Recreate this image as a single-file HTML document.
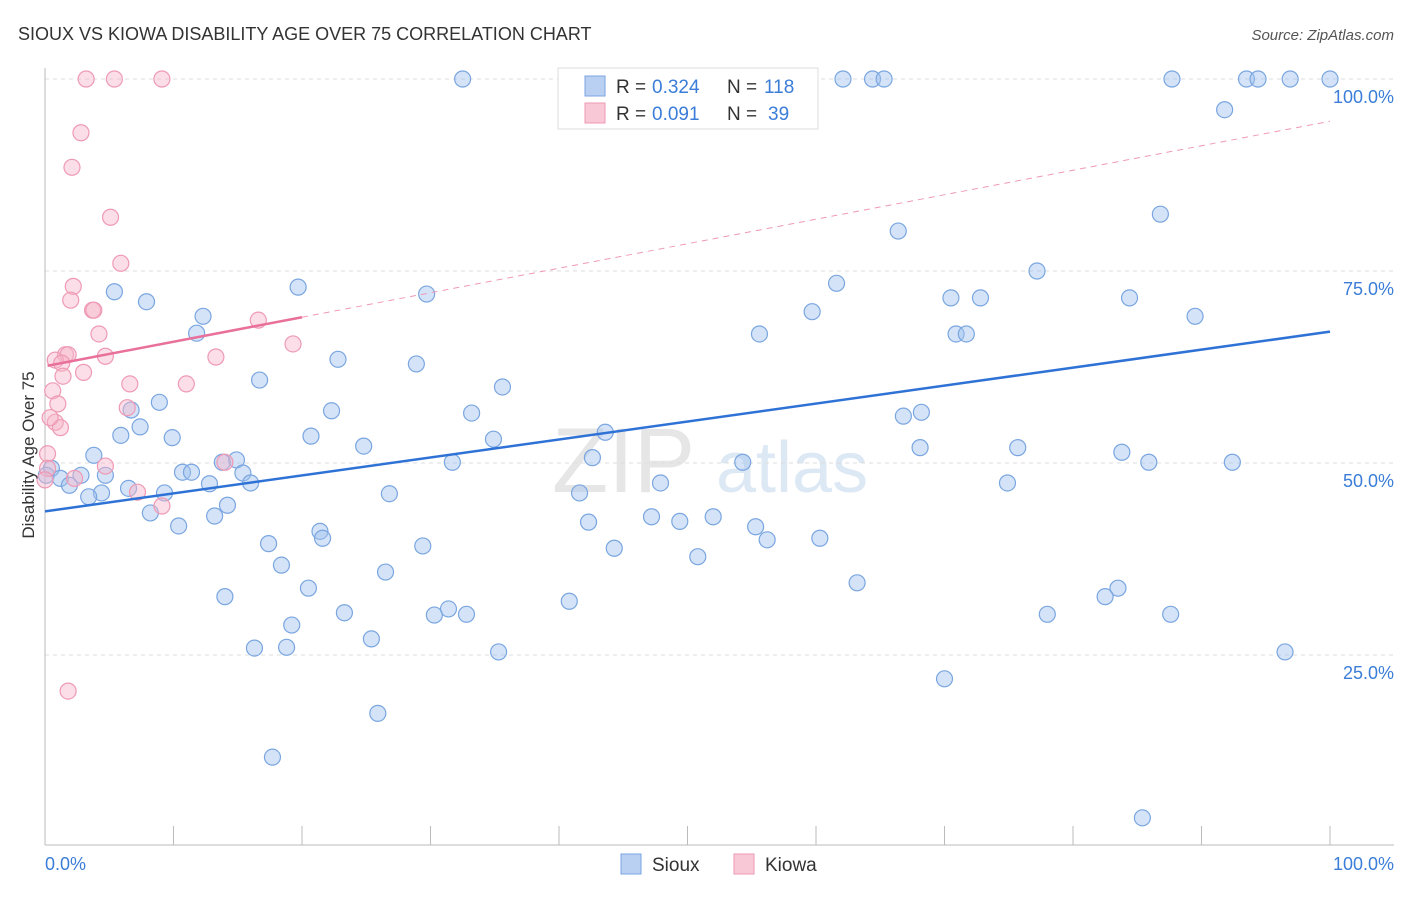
<!DOCTYPE html>
<html><head><meta charset="utf-8"><style>
body{margin:0;background:#fff;font-family:"Liberation Sans",sans-serif;}
svg text{font-family:"Liberation Sans",sans-serif;}
</style></head><body>
<svg id="c" width="1406" height="892">
<text x="18" y="40" font-size="18" fill="#333">SIOUX VS KIOWA DISABILITY AGE OVER 75 CORRELATION CHART</text>
<text x="1394" y="40" font-size="15" fill="#555" font-style="italic" text-anchor="end">Source: ZipAtlas.com</text>
<g><text x="552" y="492" font-size="92" fill="#e6e6e6" font-family="Liberation Serif">ZIP</text><text x="716" y="492" font-size="72" fill="#dde8f5">atlas</text></g>
<g id="grid"></g><g id="marks"></g>
<text x="34" y="455" font-size="17" fill="#333" transform="rotate(-90 34 455)" text-anchor="middle">Disability Age Over 75</text>
<text x="45" y="870" font-size="18" fill="#3b7dd8">0.0%</text>
<text x="1394" y="870" font-size="18" fill="#3b7dd8" text-anchor="end">100.0%</text>
<g>
<rect x="558" y="68" width="260" height="61" fill="#fff" stroke="#ddd"/>
<rect x="585" y="76" width="20" height="20" fill="#b9d0f2" stroke="#7aa6e0"/>
<rect x="585" y="103" width="20" height="20" fill="#f9c8d7" stroke="#ef9ab5"/>
<text y="93" font-size="19" fill="#333"><tspan x="616">R =</tspan><tspan x="652" fill="#3b7dd8">0.324</tspan><tspan x="727">N =</tspan><tspan x="764" fill="#3b7dd8" id="n1">118</tspan></text>
<text y="120" font-size="19" fill="#333"><tspan x="616">R =</tspan><tspan x="652" fill="#3b7dd8">0.091</tspan><tspan x="727">N =</tspan><tspan x="768" fill="#3b7dd8" id="n2">39</tspan></text>
</g>
<g>
<rect x="621" y="854" width="20" height="20" fill="#b9d0f2" stroke="#7aa6e0"/><text x="652" y="871" font-size="19" fill="#333">Sioux</text>
<rect x="734" y="854" width="20" height="20" fill="#f9c8d7" stroke="#ef9ab5"/><text x="765" y="871" font-size="19" fill="#333">Kiowa</text>
</g>
</svg>
<script>
const yTicks=[25,50,75,100];
const yTickLabels=["25.0%","50.0%","75.0%","100.0%"];
const siouxN=118;
const kiowaN=39;
const siouxX=[readX([462,630,843,873,884,1172,1246,1258,1290,1330,1225,1160,898,1037,836,951,981,1130,812,1195,760,956,966,298,114,146,203,196,427,338,417,260,502,160,131,332,472,903,922,140,121,311,172,493,605,364,920,1018,1122,1149,1232,743,593,452,236,94,52,46,61,81,105,183,191,222,243,250,210,1007,661,69,101,89,129,165,390,580,227,151,215,179,588,652,680,713,755,320,322,767,820,269,423,614,698,281,385,308,857,1118,1105,225,569,448,434,466,345,1047,1171,292,371,255,286,499,1285,945,378,273,1142])][0];
const siouxY=[readY([79,79,79,79,79,79,79,79,79,79,110,214,231,271,283,298,298,298,312,316,334,334,334,287,292,302,316,333,294,359,364,380,387,402,410,411,413,416,412,427,435,436,438,439,432,446,448,448,452,462,462,462,458,462,460,455,468,475,478,475,475,472,472,462,473,483,484,483,483,485,493,497,488,493,494,493,505,513,516,526,522,517,521,517,527,531,538,540,538,544,546,548,557,565,572,588,583,588,597,597,601,609,615,614,613,614,614,625,639,648,647,652,652,679,713,757,818])][0];
const kiowaX=[readX([86,115,162,81,72,110,121,73,71,92,94,99,258,293,65,68,55,62,106,216,84,63,130,186,53,58,127,55,60,48,105,48,225,75,138,162,68,45,50])][0];
const kiowaY=[readY([79,79,79,133,167,217,263,286,300,310,310,334,320,344,355,355,360,363,356,357,372,376,384,384,391,404,408,422,428,454,466,468,462,478,492,506,691,480,418])][0];
const siouxTrend=[43.7,67.1];
const kiowaTrend=[62.6,94.5];
function readX(a){return a.map(p=>+((p-45)/12.85).toFixed(1));}
function readY(a){return a.map(p=>+((847-p)/7.68).toFixed(1));}
document.getElementById('n1').textContent=siouxN;
document.getElementById('n2').textContent=kiowaN;
const sx=v=>45+v*12.85, sy=v=>847-v*7.68;
const NS='http://www.w3.org/2000/svg';
function mk(t,at,parent){const e=document.createElementNS(NS,t);for(const k in at)e.setAttribute(k,at[k]);parent.appendChild(e);return e;}
const g=document.getElementById('grid'),m=document.getElementById('marks');
yTicks.forEach((t,i)=>{
 const l=mk('line',{x1:45,x2:1394,y1:sy(t),y2:sy(t),stroke:'#ddd','stroke-dasharray':'4,4'},g);
 
 
 const tx=mk('text',{x:1394,y:sy(t)+24,'font-size':18,fill:'#3b7dd8','text-anchor':'end'},g);tx.textContent=yTickLabels[i];
 
 
});
const ax=mk('line',{x1:45,x2:1394,y1:845,y2:845,stroke:'#bbb'},g);


const ay=mk('line',{x1:45,x2:45,y1:68,y2:845,stroke:'#bbb'},g);


for(let i=0;i<=10;i++){const t=mk('line',{x1:sx(i*10),x2:sx(i*10),y1:826,y2:845,stroke:'#bbb'},g);
 
 }
function dots(xs,ys,fill,stroke,name){xs.forEach((x,i)=>{const c=mk('circle',{cx:sx(x),cy:sy(ys[i]),r:8,fill:fill,stroke:stroke,'stroke-width':1.2},m);
 
 });}
dots(siouxX,siouxY,'rgba(160,192,238,0.45)','#7aa6e0','sioux-point');
dots(kiowaX,kiowaY,'rgba(246,182,202,0.45)','#ef9ab5','kiowa-point');
const kt=v=>kiowaTrend[0]+(kiowaTrend[1]-kiowaTrend[0])*v/100;
const kd=mk('line',{x1:sx(20),y1:sy(kt(20)),x2:sx(100),y2:sy(kt(100)),stroke:'#ef9ab5','stroke-dasharray':'6,5','stroke-width':1},m);


const ks=mk('line',{x1:sx(0.2),y1:sy(kt(0.2)),x2:sx(20),y2:sy(kt(20)),stroke:'#e8709a','stroke-width':2.5},m);


const st=mk('line',{x1:sx(0),y1:sy(siouxTrend[0]),x2:sx(100),y2:sy(siouxTrend[1]),stroke:'#2f72d6','stroke-width':2.5},m);


</script>
</body></html>
